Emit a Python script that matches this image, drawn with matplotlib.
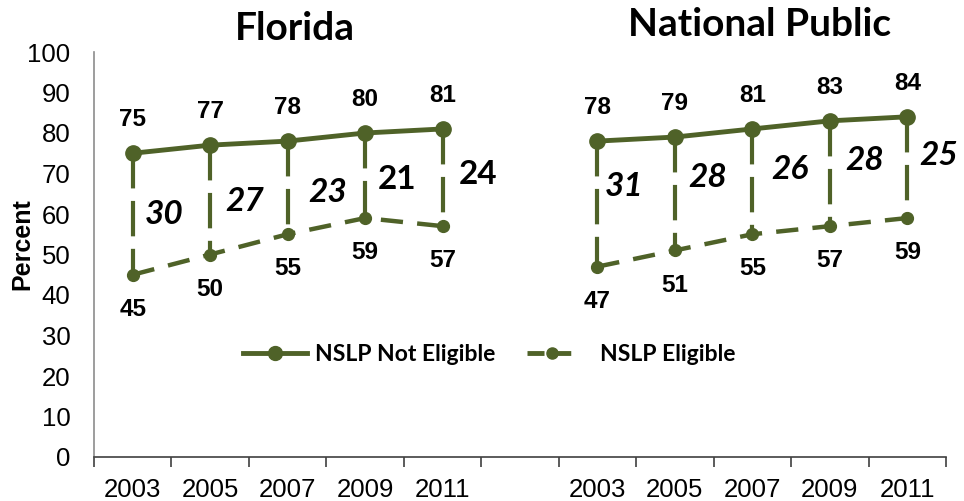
import matplotlib
matplotlib.use("Agg")
import matplotlib.pyplot as plt
from matplotlib.lines import Line2D

# ---- data ----
years = ["2003", "2005", "2007", "2009", "2011"]
groups = ["Florida", "National Public"]
fl_not_eligible = [75, 77, 78, 80, 81]
fl_eligible = [45, 50, 55, 59, 57]
fl_gaps = ["30", "27", "23", "21", "24"]
fl_gap_italic = [True, True, True, False, False]
nat_not_eligible = [78, 79, 81, 83, 84]
nat_eligible = [47, 51, 55, 57, 59]
nat_gaps = ["31", "28", "26", "28", "25"]
nat_gap_italic = [True, True, True, True, True]
series_names = ["NSLP Not Eligible", "NSLP Eligible"]
yticks = [0, 10, 20, 30, 40, 50, 60, 70, 80, 90, 100]
y_title = "Percent"

# ---- layout / style ----
GREEN = "#4f6228"
ARIAL = ["Liberation Sans", "DejaVu Sans"]
CAL = ["Lato", "DejaVu Sans"]
# gap label placement (x offset in categories, y in data units)
fl_gap_pos = [(0.40, 59.8), (0.45, 63.0), (0.52, 65.4), (0.41, 68.4), (0.46, 69.8)]
nat_gap_pos = [(0.34, 66.7), (0.42, 68.9), (0.49, 70.9), (0.45, 73.3), (0.40, 74.5)]

fig = plt.figure(figsize=(9.64, 5.01), dpi=100)
ax = fig.add_axes([94 / 964, 1 - 457 / 501, 852 / 964, 405 / 501])

ax.set_xlim(-0.5, 10.5)
ax.set_ylim(0, 100)

panels = [
    (list(range(0, 5)), fl_not_eligible, fl_eligible, fl_gaps, fl_gap_italic, fl_gap_pos),
    (list(range(6, 11)), nat_not_eligible, nat_eligible, nat_gaps, nat_gap_italic, nat_gap_pos),
]

for xs, hi, lo, gaps, ital, gpos in panels:
    # drop lines
    for x, h, l in zip(xs, hi, lo):
        ax.plot([x, x], [h, l], color=GREEN, lw=3.0,
                linestyle=(0, (8.5, 3.0)), solid_capstyle="butt",
                dash_capstyle="butt", zorder=2)
    ax.plot(xs, hi, color=GREEN, lw=3.5, marker="o", markersize=11,
            solid_capstyle="round", zorder=3)
    ax.plot(xs, lo, color=GREEN, lw=3.2, marker="o", markersize=8.5,
            linestyle=(0, (5.0, 3.2)), zorder=3)
    for x, h, l in zip(xs, hi, lo):
        ax.annotate(str(h), (x, h), xytext=(0, 24), textcoords="offset points",
                    ha="center", va="center", fontsize=17.5, fontweight="bold",
                    family=ARIAL)
        ax.annotate(str(l), (x, l), xytext=(0, -25), textcoords="offset points",
                    ha="center", va="center", fontsize=17.5, fontweight="bold",
                    family=ARIAL)
    for x, g, it, (dx, gy) in zip(xs, gaps, ital, gpos):
        ax.text(x + dx, gy, g, ha="center", va="center", fontsize=24,
                fontweight="bold", style="italic" if it else "normal", family=CAL)

# titles
fig.text(295 / 964, 1 - 28 / 501, groups[0], ha="center", va="center",
         fontsize=28, fontweight="bold", family=CAL)
fig.text(760 / 964, 1 - 25 / 501, groups[1], ha="center", va="center",
         fontsize=28, fontweight="bold", family=CAL)

# axes styling
for s in ["top", "right"]:
    ax.spines[s].set_visible(False)
ax.spines["left"].set_color("#8c8c8c")
ax.spines["left"].set_linewidth(1.2)
ax.spines["bottom"].set_color("#404040")
ax.spines["bottom"].set_linewidth(1.2)

ax.set_yticks(yticks)
ax.set_yticklabels([str(v) for v in yticks], fontsize=18.5, family=ARIAL)
ax.tick_params(axis="y", length=0, pad=17)

ax.set_xticks([i - 0.5 for i in range(12)])
ax.set_xticklabels([""] * 12)
ax.tick_params(axis="x", which="major", length=7, width=1.2, color="#404040")
cats = list(range(0, 5)) + list(range(6, 11))
ax.set_xticks(cats, minor=True)
ax.set_xticklabels(years + years, minor=True, fontsize=18.5, family=ARIAL)
ax.tick_params(axis="x", which="minor", length=0, pad=15)

fig.text(22 / 964, 1 - 244 / 501, y_title, rotation=90, ha="center", va="center",
         fontsize=18, fontweight="bold", family=ARIAL)

# legend (two single-entry legends to match differing handle lengths)
h1 = Line2D([], [], color=GREEN, lw=3.5, marker="o", markersize=10)
h2 = Line2D([], [], color=GREEN, lw=3.5, marker="o", markersize=8,
            linestyle=(0, (3.5, 2.0)))
prop = {"family": CAL, "weight": "bold", "size": 16.5}
leg1 = ax.legend([h1], [series_names[0]], loc="center left",
                 bbox_to_anchor=((243 - 94) / 852, 0.252), frameon=False,
                 handlelength=2.8, handletextpad=0.36, borderpad=0,
                 borderaxespad=0, prop=prop)
ax.add_artist(leg1)
leg2 = ax.legend([h2], [series_names[1]], loc="center left",
                 bbox_to_anchor=((527 - 94) / 852, 0.252), frameon=False,
                 handlelength=2.2, handletextpad=1.0, borderpad=0,
                 borderaxespad=0, prop=prop)

fig.savefig("out.png", dpi=100)
